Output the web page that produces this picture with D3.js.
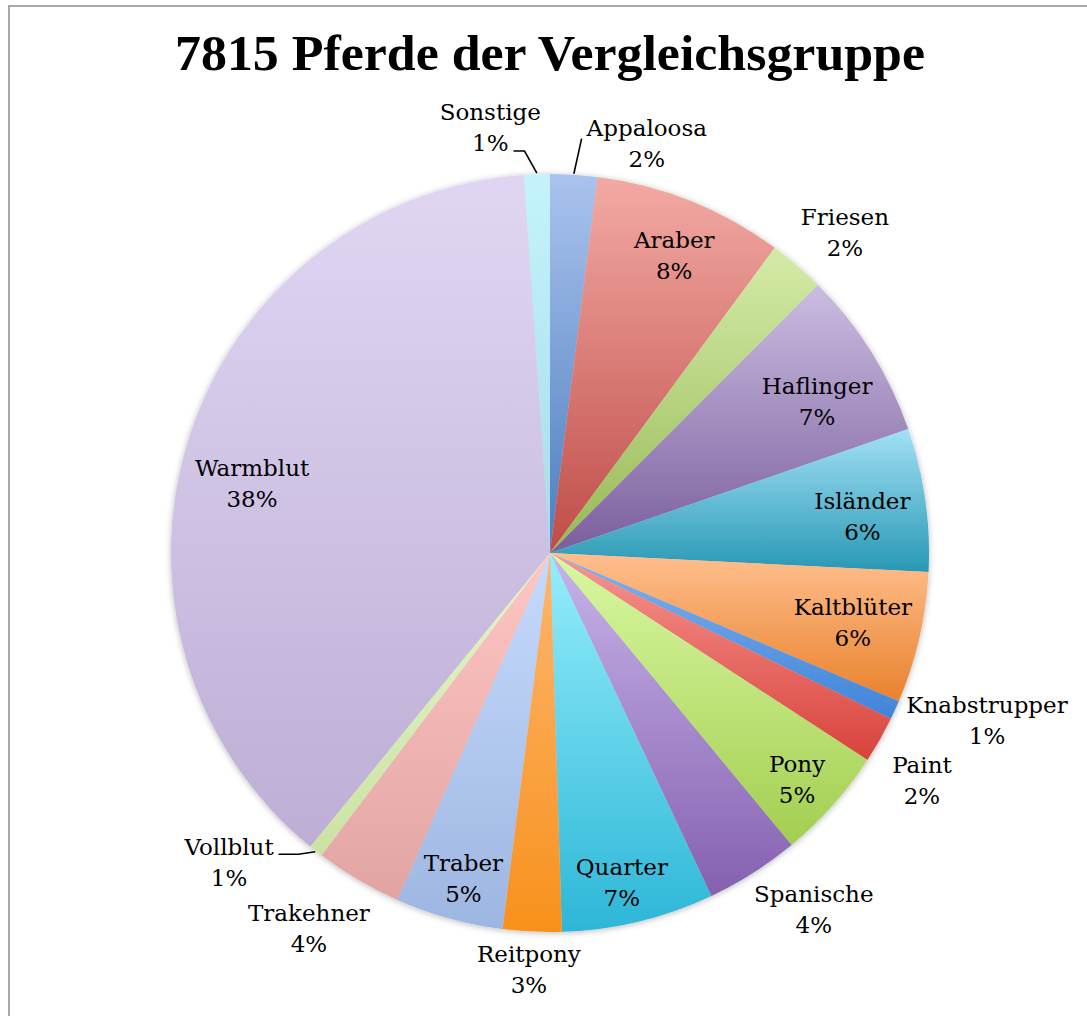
<!DOCTYPE html>
<html>
<head>
<meta charset="utf-8">
<title>7815 Pferde der Vergleichsgruppe</title>
<style>
  body { margin: 0; background: #fff; }
  text { font-family: "DejaVu Serif", "Liberation Serif", serif; fill: #000; }
  .title { font-family: "Liberation Serif", serif; }
</style>
</head>
<body>
<script src="https://cdn.jsdelivr.net/npm/d3@7"></script>
<script>
// Daten (Prozentanteile, im Uhrzeigersinn ab 12 Uhr)
var breeds = ['Appaloosa', 'Araber', 'Friesen', 'Haflinger', 'Isländer', 'Kaltblüter', 'Knabstrupper',
  'Paint', 'Pony', 'Spanische', 'Quarter', 'Reitpony', 'Traber', 'Trakehner', 'Vollblut', 'Warmblut', 'Sonstige'];
var shares = [2.0, 8.1, 2.4, 7.2, 6.1, 5.6, 0.8, 2.0, 4.8, 4.0, 6.5, 2.5, 4.6, 3.7, 0.6, 38.0, 1.1];
var title = '7815 Pferde der Vergleichsgruppe';

// Farbverlauf je Segment: oben hell, unten dunkel
var colorTop = ['#aac3ee', '#f3aaa4', '#d4eba8', '#cbbde1', '#a2e0f6', '#ffbf8e', '#80b2f0', '#f89591',
  '#d9f8a2', '#c7b4e9', '#95eefc', '#fdb670', '#c6dafc', '#ffc6c4', '#e5f6c7', '#e0d6f3', '#c4f3fc'];
var colorBottom = ['#4c7dbd', '#bf4c48', '#98b955', '#7a5e9d', '#2898b3', '#e9822d', '#3f84d8', '#d8433c',
  '#a3ce50', '#8560b0', '#2db6d7', '#f8911c', '#9db6e1', '#e1a4a2', '#cbe2a4', '#bdaed5', '#a6dcea'];

// Beschriftungs-Layout: Radiusfaktor und Winkelkorrektur (Grad)
var labelK  = [1.11, 0.85, 1.15, 0.81, 0.83, 0.82, 1.235, 1.15, 0.885, 1.17, 0.89, 1.10, 0.89, 1.177, 1.176, 0.807, 1.135];
var labelDa = [9.7, 0.9, 1.9, 2.5, 1.4, 0, -3.5, 1.9, 0.8, -4.1, 1.2, 0.2, -0.6, 2.3, 7.9, -4.6, -6];
var leaders = {'Appaloosa': 'left', 'Sonstige': 'pct', 'Vollblut': 'name'};

var W = 1087, H = 1016, cx = 550, cy = 553, R = 379;

var svg = d3.select('body').append('svg').attr('width', W).attr('height', H);

// Rahmen
svg.append('rect').attr('x', 9).attr('y', 6).attr('width', W + 20).attr('height', H + 20)
  .attr('fill', 'none').attr('stroke', '#8c8c8c').attr('stroke-width', 1.5);

svg.append('text')
  .attr('class', 'title')
  .attr('x', cx).attr('y', 70)
  .attr('text-anchor', 'middle')
  .style('font-size', '50px').style('font-weight', 'bold')
  .attr('textLength', 750).attr('lengthAdjust', 'spacingAndGlyphs')
  .text(title);

var defs = svg.append('defs');
var shadow = defs.append('filter').attr('id', 'shadow').attr('x', '-10%').attr('y', '-10%').attr('width', '120%').attr('height', '120%');
shadow.append('feDropShadow').attr('dx', 0).attr('dy', 1).attr('stdDeviation', 3)
  .attr('flood-color', '#000').attr('flood-opacity', 0.28);

breeds.forEach(function(b, i) {
  var g = defs.append('linearGradient').attr('id', 'grad' + i)
    .attr('x1', 0).attr('y1', 0).attr('x2', 0).attr('y2', 1);
  g.append('stop').attr('offset', '0%').attr('stop-color', colorTop[i]);
  g.append('stop').attr('offset', '100%').attr('stop-color', colorBottom[i]);
});

var data = breeds.map(function(b, i) { return {name: b, value: shares[i], i: i}; });

var pie = d3.pie().sort(null).value(function(d) { return d.value; });
var arc = d3.arc().innerRadius(0).outerRadius(R);
var arcs = pie(data);

var chart = svg.append('g').attr('transform', 'translate(' + cx + ',' + cy + ')');

chart.append('g').attr('filter', 'url(#shadow)')
  .selectAll('path')
  .data(arcs)
  .enter().append('path')
  .attr('d', arc)
  .attr('fill', function(d) { return 'url(#grad' + d.data.i + ')'; });

function polar(angle, r) {
  return [Math.sin(angle) * r, -Math.cos(angle) * r];
}

var labels = chart.selectAll('g.label')
  .data(arcs)
  .enter().append('g')
  .attr('class', 'label')
  .attr('transform', function(d) {
    var i = d.data.i;
    var mid = (d.startAngle + d.endAngle) / 2 + labelDa[i] * Math.PI / 180;
    var p = polar(mid, R * labelK[i]);
    d.lx = p[0]; d.ly = p[1];
    return 'translate(' + p[0] + ',' + p[1] + ')';
  });

labels.append('text').attr('class', 'name')
  .attr('text-anchor', 'middle').attr('y', -7.5)
  .style('font-size', '23px')
  .text(function(d) { return d.data.name; });

labels.append('text').attr('class', 'pct')
  .attr('text-anchor', 'middle').attr('y', 23.5)
  .style('font-size', '23px')
  .text(function(d) { return Math.round(d.data.value) + '%'; });

// Führungslinien für kleine Außenbeschriftungen
labels.each(function(d) {
  var kind = leaders[d.data.name];
  if (!kind) return;
  var g = d3.select(this);
  var mid = (d.startAngle + d.endAngle) / 2;
  var a = polar(mid, R + 1);
  var pts;
  if (kind === 'left') {
    var nb = g.select('.name').node().getBBox();
    var s = [d.lx + nb.x - 4, d.ly - 5];
    pts = [s, a];
  } else if (kind === 'pct') {
    var pb = g.select('.pct').node().getBBox();
    var s2 = [d.lx + pb.x + pb.width + 5, d.ly + 24];
    pts = [s2, [s2[0] + 11, s2[1]], a];
  } else {
    var nb2 = g.select('.name').node().getBBox();
    var s3 = [d.lx + nb2.x + nb2.width + 4, d.ly - 8];
    pts = [s3, [s3[0] + 20, s3[1]], a];
  }
  chart.append('path')
    .attr('d', d3.line()(pts))
    .attr('fill', 'none').attr('stroke', '#000').attr('stroke-width', 1.6);
});
</script>
</body>
</html>
